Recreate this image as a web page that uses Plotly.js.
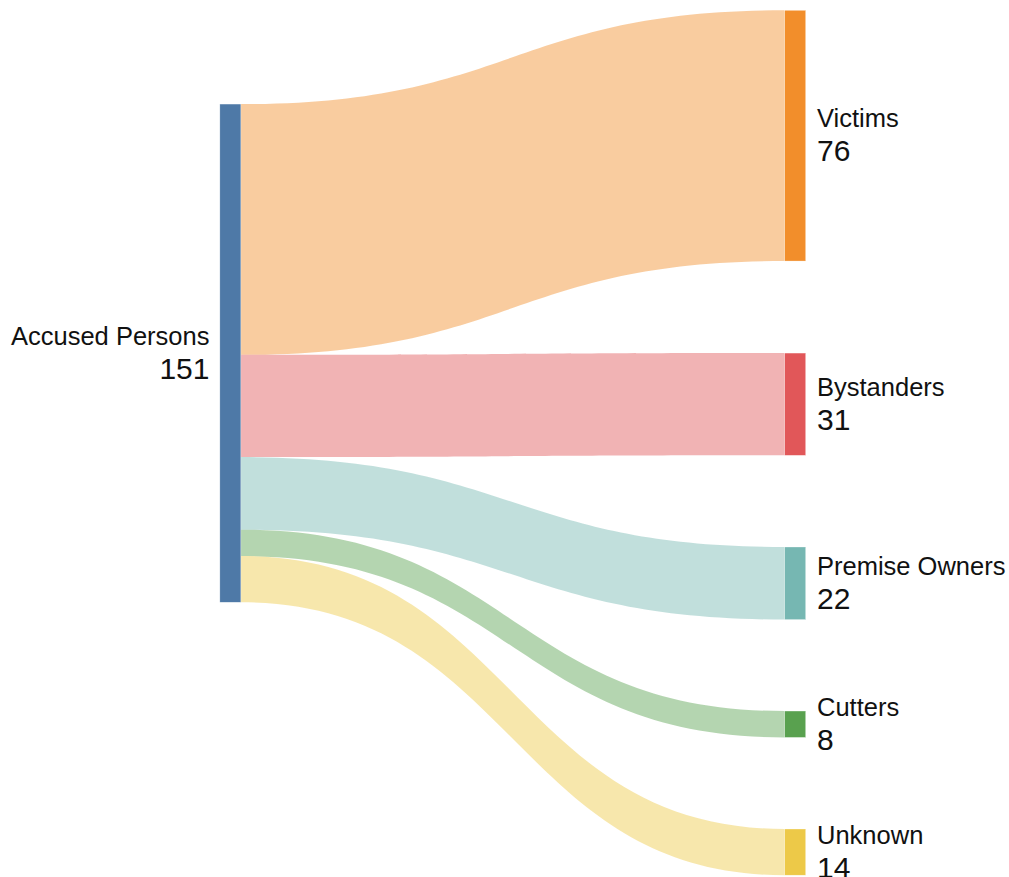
<!DOCTYPE html>
<html><head><meta charset="utf-8">
<script src="https://cdn.plot.ly/plotly-3.0.1.min.js"></script>
<style>html,body{margin:0;padding:0;background:#fff}#chart{width:1009px;height:877px}</style>
</head><body><div id="chart"></div>
<script>
// ---- data ----
const sourceLabel = 'Accused Persons';
const targetLabels = ['Victims', 'Bystanders', 'Premise Owners', 'Cutters', 'Unknown'];
const targetValues = [76, 31, 22, 8, 14];
const sourceColor = '#4e79a7';
const targetColors = ['#f28e2b', '#e15759', '#76b7b2', '#59a14f', '#edc948'];

// ---- layout settings ----
const W = 1009, H = 877;
const thickness = 21;
const nodeX = [0.2283, 0.7881, 0.7881, 0.7881, 0.7881, 0.7881];
const nodeY = [0.4027, 0.1547, 0.4609, 0.6651, 0.8258, 0.9716];

function hexA(hex, a) {
  const n = parseInt(hex.slice(1), 16);
  return 'rgba(' + (n >> 16 & 255) + ',' + (n >> 8 & 255) + ',' + (n & 255) + ',' + a + ')';
}

const labels = [sourceLabel].concat(targetLabels);
const nodeColors = [sourceColor].concat(targetColors);
const sources = targetLabels.map(() => 0);
const targets = targetLabels.map((_, i) => i + 1);
const linkColors = targetColors.map(c => hexA(c, 0.45));
const sourceTotal = targetValues.reduce((a, b) => a + b, 0);
const nodeValues = [sourceTotal].concat(targetValues);

const trace = {
  type: 'sankey',
  arrangement: 'fixed',
  orientation: 'h',
  domain: {x: [0, 1], y: [0, 1]},
  hoverinfo: 'none',
  textfont: {color: 'rgba(0,0,0,0)', size: 1},
  node: {
    label: labels,
    color: nodeColors,
    x: nodeX,
    y: nodeY,
    pad: 94.7,
    thickness: thickness,
    line: {color: 'rgba(255,255,255,0.6)', width: 0.5},
    hoverinfo: 'none'
  },
  link: {
    source: sources,
    target: targets,
    value: targetValues,
    color: linkColors,
    hoverinfo: 'none'
  }
};

const annotations = labels.map((lab, i) => {
  const isLeft = i === 0;
  return {
    xref: 'paper', yref: 'paper',
    x: isLeft ? nodeX[i] - thickness / 2 / W : nodeX[i] + thickness / 2 / W,
    y: 1 - nodeY[i],
    xanchor: isLeft ? 'right' : 'left',
    yanchor: 'middle',
    xshift: isLeft ? -9 : 9,
    align: isLeft ? 'right' : 'left',
    showarrow: false,
    font: {family: 'Liberation Sans, Arial, sans-serif', size: 26, color: '#111'},
    text: '<span style="font-size:25.5px">' + lab + '</span><br><span style="font-size:30px">' + nodeValues[i] + '</span>'
  };
});

const layout = {
  width: W, height: H,
  margin: {l: 0, r: 0, t: 0, b: 0},
  paper_bgcolor: '#fff',
  font: {family: 'Liberation Sans, Arial, sans-serif'},
  annotations: annotations
};

Plotly.newPlot('chart', [trace], layout, {displayModeBar: false, staticPlot: true});
</script>
</body></html>
